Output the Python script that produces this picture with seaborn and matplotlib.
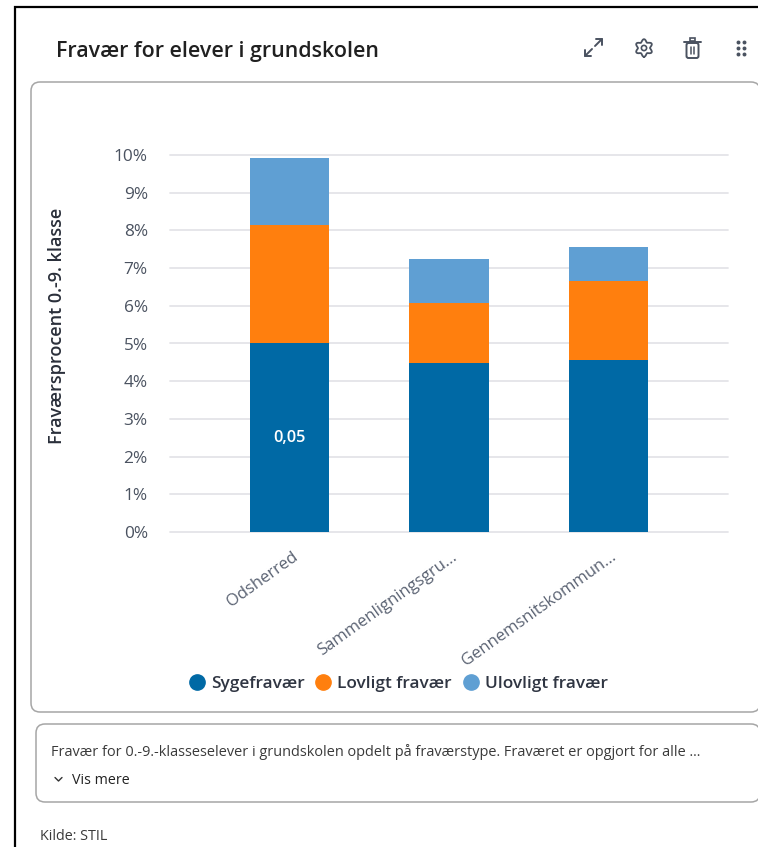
import matplotlib
matplotlib.use("Agg")
import matplotlib.pyplot as plt
from matplotlib.lines import Line2D
from matplotlib.patches import FancyBboxPatch, Rectangle, Circle
from matplotlib.transforms import ScaledTranslation
import numpy as np
import pandas as pd
import seaborn as sns

categories = ["Odsherred", "Sammenligningsgru...", "Gennemsnitskommun..."]
sygefravaer = [5.0, 4.47, 4.57]
lovligt = [3.13, 1.61, 2.08]
ulovligt = [1.79, 1.16, 0.92]
series_names = ["Sygefravær", "Lovligt fravær", "Ulovligt fravær"]
colors = ["#0069A5", "#FF7F0E", "#5F9FD3"]
yticks = list(range(0, 11))

sns.set_theme(style="white")
plt.rcParams["font.family"] = ["Open Sans", "DejaVu Sans"]

W, H = 758, 847
fig = plt.figure(figsize=(W / 100, H / 100), dpi=100, facecolor="white")

# page chrome, in pixel coords
bg = fig.add_axes([0, 0, 1, 1])
bg.set_xlim(0, W)
bg.set_ylim(H, 0)
bg.axis("off")
bg.plot([15, 15, 758], [847, 7, 7], color="black", lw=1.6, solid_joinstyle="miter")
bg.add_patch(FancyBboxPatch((31, 82), 729, 630, boxstyle="round,pad=0,rounding_size=9",
                            fc="white", ec="#A6A6A6", lw=1.1))
bg.add_patch(FancyBboxPatch((36, 724), 724, 78, boxstyle="round,pad=0,rounding_size=9",
                            fc="white", ec="#A6A6A6", lw=1.1))
bg.text(56, 51.5, "Fravær for elever i grundskolen", fontsize=15.4, fontweight="semibold",
        color="#202020", va="center")
bg.text(51, 751.5, "Fravær for 0.-9.-klasseselever i grundskolen opdelt på fraværstype. "
        "Fraværet er opgjort for alle ...", fontsize=10.45, color="#3A3A3A", va="center")
bg.text(72, 780.5, "Vis mere", fontsize=10.3, color="#222222", va="center")
bg.plot([55, 58.5, 62], [777.5, 781, 777.5], color="#333333", lw=1)
bg.text(40, 836.5, "Kilde: STIL", fontsize=10.4, color="#3A3A3A", va="center")

# toolbar icons
icon = "#4A5260"
bg.plot([595, 602], [46, 39], color=icon, lw=1.4)
bg.plot([596, 602, 602], [39, 39, 45], color=icon, lw=1.4)
bg.plot([592, 585], [49, 56], color=icon, lw=1.4)
bg.plot([585, 585, 591], [50, 56, 56], color=icon, lw=1.4)
t = np.linspace(0, 2 * np.pi, 200)
r = 7.4 + 1.4 * np.cos(6 * t)
bg.plot(644 + r * np.sin(t), 48 + r * np.cos(t), color=icon, lw=1.3)
bg.add_patch(Circle((644, 48), 2.6, fc="white", ec=icon, lw=1.2))
bg.add_patch(FancyBboxPatch((686.5, 43), 12, 15, boxstyle="round,pad=0,rounding_size=2", fc="white", ec=icon, lw=1.4))
bg.plot([684, 701], [42, 42], color=icon, lw=1.4)
bg.add_patch(Rectangle((690, 38.5), 5, 3, fc="none", ec=icon, lw=1.2))
bg.plot([691, 691], [47, 54], color=icon, lw=1.1)
bg.plot([694, 694], [47, 54], color=icon, lw=1.1)
bg.scatter([738, 744] * 3, [42, 42, 48, 48, 54, 54], s=8, color=icon, lw=0)

# chart
ax_left, ax_right, ax_top, ax_bottom = 170, 728, 155, 532
ax = fig.add_axes([ax_left / W, 1 - ax_bottom / H, (ax_right - ax_left) / W, (ax_bottom - ax_top) / H])
ax.patch.set_alpha(0)

df = pd.DataFrame({"kategori": categories, "syge": sygefravaer, "lovligt": lovligt, "ulovligt": ulovligt})
df["bund2"] = df["syge"] + df["lovligt"]

bar_kw = dict(x="kategori", width=0.5, saturation=1, linewidth=0, ax=ax, zorder=3)
sns.barplot(data=df, y="syge", color=colors[0], **bar_kw)
sns.barplot(data=df, y="lovligt", bottom=df["syge"], color=colors[1], **bar_kw)
sns.barplot(data=df, y="ulovligt", bottom=df["bund2"], color=colors[2], **bar_kw)

ax.bar_label(ax.containers[0], labels=["0,05", "", ""], label_type="center", color="white",
             fontsize=11.8, fontweight="semibold")

ax.set_xlim(-0.75, 2.75)
ax.set_ylim(0, 10)
ax.set_yticks(yticks)
ax.set_yticklabels([f"{v}%" for v in yticks], fontsize=12.4, color="#4A5260")
ax.set_xticks(range(len(categories)))
ax.set_xticklabels(categories, rotation=35.5, ha="right", rotation_mode="anchor",
                   fontsize=12, color="#5A6272")
ax.tick_params(axis="x", length=0, pad=12)
ax.tick_params(axis="y", length=0, pad=16)
shift = ScaledTranslation(2 / 100, 0, fig.dpi_scale_trans)
for lab in ax.get_xticklabels():
    lab.set_transform(lab.get_transform() + shift)
ax.grid(axis="y", color="#E4E4E8", lw=1.3, zorder=0)
for line in ax.get_ygridlines():
    line.set_clip_on(False)
ax.set_axisbelow(True)
sns.despine(ax=ax, left=True, bottom=True)
ax.set_xlabel("")
ax.set_ylabel("")
bg.text(57, 326, "Fraværsprocent 0.-9. klasse", rotation=90, fontsize=13, fontweight="semibold",
        color="#2A2F3A", ha="center", va="center")

handles = [Line2D([], [], marker="o", ls="", ms=11, color=c) for c in colors]
fig.legend(handles, series_names, loc="center", bbox_to_anchor=(398 / W, 1 - 684 / H), ncol=3,
           frameon=False, handlelength=1.0, handletextpad=0.3, columnspacing=0.6, borderpad=0,
           prop={"size": 12.4, "weight": "semibold"}, labelcolor="#2F3542")

fig.savefig("out.png", dpi=100)
